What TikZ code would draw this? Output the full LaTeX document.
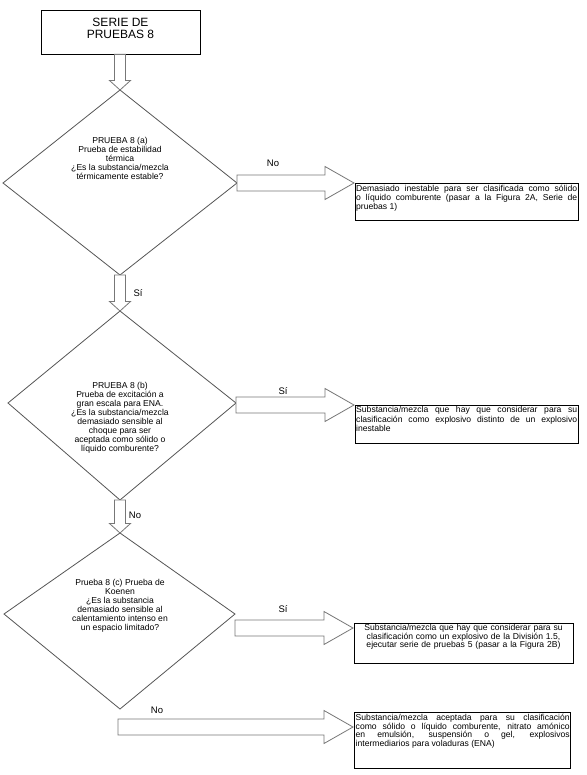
\documentclass[tikz,border=0pt]{standalone}
\usepackage{fontspec}
\setmainfont{Liberation Sans}
\usetikzlibrary{calc}
\definecolor{diamgray}{HTML}{555555}
\definecolor{arrgray}{HTML}{777777}
\newcommand{\vblk}[2]{\draw[blk] let \p1=(#1), \p2=(#2) in
 ({\x2-5.5pt},\y1) -- ({\x2-5.5pt},{\y2+9.5pt}) -- ({\x2-10.5pt},{\y2+9.5pt}) -- (\x2,\y2) -- ({\x2+10.5pt},{\y2+9.5pt}) -- ({\x2+5.5pt},{\y2+9.5pt}) -- ({\x2+5.5pt},\y1) -- cycle;}
\newcommand{\hblk}[2]{\draw[blk] let \p1=(#1), \p2=(#2) in
 (\x1,{\y2+8pt}) -- ({\x2-29pt},{\y2+8pt}) -- ({\x2-29pt},{\y2+16.5pt}) -- (\x2,\y2) -- ({\x2-29pt},{\y2-16.5pt}) -- ({\x2-29pt},{\y2-8pt}) -- (\x1,{\y2-8pt}) -- cycle;}
\begin{document}
\begin{tikzpicture}[x=1pt,y=-1pt,
  diam/.style={draw=diamgray, line width=0.8pt},
  blk/.style={draw=arrgray, fill=white, line width=0.8pt},
  boxs/.style={draw=black, line width=0.8pt, inner sep=0pt},
  dtext/.style={font=\fontsize{8.6}{9}\selectfont, align=center, inner sep=0pt},
  btext/.style={font=\fontsize{8.6}{9.1}\selectfont, align=justify, inner sep=0pt, anchor=north west},
  lbl/.style={font=\fontsize{9.5}{9.5}\selectfont, inner sep=0pt}]
\useasboundingbox (0,0) rectangle (586,775);
\fill[white] (0,0) rectangle (586,775);

% title
\node[boxs, minimum width=159pt, minimum height=44pt] (title) at (120.5,32) {};
\node[font=\fontsize{12}{12}\selectfont, align=center, inner sep=0pt] (titlet) at (120.5,28.5) {SERIE DE\\PRUEBAS 8};

% diamond 1
\coordinate (d1t) at (120,90);
\coordinate (d1r) at (237,183);
\coordinate (d1b) at (120,275);
\coordinate (d1l) at (3,183);
\draw[diam] (d1t) -- (d1r) -- (d1b) -- (d1l) -- cycle;
\node[dtext] (d1) at (120,158) {PRUEBA 8 (a)\\Prueba de estabilidad\\térmica\\¿Es la substancia/mezcla\\térmicamente estable?};

% diamond 2
\coordinate (d2t) at (120,311);
\coordinate (d2r) at (236,403);
\coordinate (d2b) at (120,500);
\coordinate (d2l) at (8,403);
\draw[diam] (d2t) -- (d2r) -- (d2b) -- (d2l) -- cycle;
\node[dtext] (d2) at (120,418) {PRUEBA 8 (b)\\Prueba de excitación a\\gran escala para ENA.\\¿Es la substancia/mezcla\\demasiado sensible al\\choque para ser\\aceptada como sólido o\\líquido comburente?};

% diamond 3
\coordinate (d3t) at (120,533);
\coordinate (d3r) at (235,614);
\coordinate (d3b) at (120,709);
\coordinate (d3l) at (4,614);
\draw[diam] (d3t) -- (d3r) -- (d3b) -- (d3l) -- cycle;
\node[dtext] (d3) at (120,606) {Prueba 8 (c) Prueba de\\Koenen\\¿Es la substancia\\demasiado sensible al\\calentamiento intenso en\\un espacio limitado?};

% result boxes
\node[boxs, anchor=north west, minimum width=223pt, minimum height=37pt] (b1) at (355,183) {};
\node[btext, text width=221pt] (b1t) at (356,184.5) {Demasiado inestable para ser clasificada como sólido\linebreak o líquido comburente (pasar a la Figura 2A, Serie de\linebreak pruebas 1)};

\node[boxs, anchor=north west, minimum width=223pt, minimum height=38pt] (b2) at (355,405) {};
\node[btext, text width=221pt] (b2t) at (356,406.5) {Substancia/mezcla que hay que considerar para su\linebreak clasificación como explosivo distinto de un explosivo\linebreak inestable};

\node[boxs, anchor=north west, minimum width=219pt, minimum height=40pt] (b3) at (354,623) {};
\node[btext, align=center, anchor=north, text width=217pt, font=\fontsize{8.6}{8.6}\selectfont] (b3t) at (463.5,624) {Substancia/mezcla que hay que considerar para su\\clasificación como un explosivo de la División 1.5,\\ejecutar serie de pruebas 5 (pasar a la Figura 2B)};

\node[boxs, anchor=north west, minimum width=216pt, minimum height=56pt] (b4) at (354,712) {};
\node[btext, text width=214pt, font=\fontsize{8.6}{8.5}\selectfont] (b4t) at (355.5,714) {Substancia/mezcla aceptada para su clasificación\linebreak como sólido o líquido comburente, nitrato amónico\linebreak en emulsión, suspensión o gel, explosivos\linebreak intermediarios para voladuras (ENA)};

% arrow tips
\coordinate (tB) at (354,183);
\coordinate (tD) at (354,405);
\coordinate (tF) at (353,628);
\coordinate (tG) at (353,727);
\coordinate (sG) at (118,727);

% block arrows
\vblk{title.south}{d1t}
\vblk{d1b}{d2t}
\vblk{d2b}{d3t}
\hblk{d1r}{tB}
\hblk{d2r}{tD}
\hblk{d3r}{tF}
\hblk{sG}{tG}

% labels
\node[lbl] (lB) at (273,163) {No};
\node[lbl] (lC) at (138,293) {Sí};
\node[lbl] (lD) at (283,391) {Sí};
\node[lbl] (lE) at (135,515) {No};
\node[lbl] (lF) at (283,609) {Sí};
\node[lbl] (lG) at (157,710) {No};
\end{tikzpicture}
\end{document}
